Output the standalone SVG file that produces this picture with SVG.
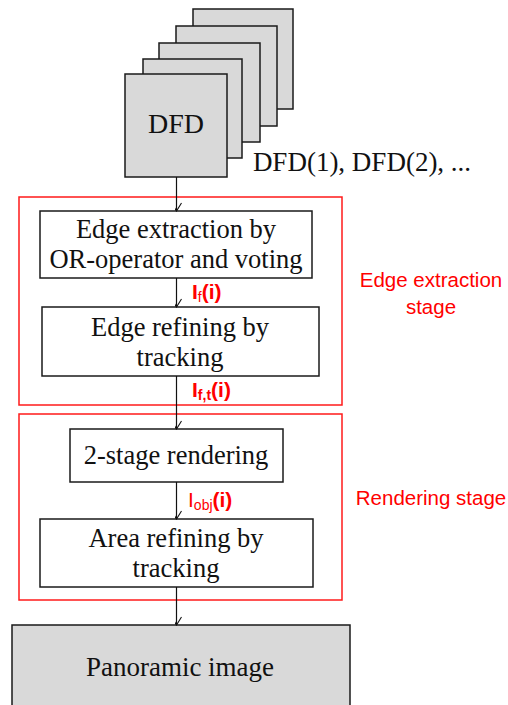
<svg xmlns="http://www.w3.org/2000/svg" width="508" height="705" viewBox="0 0 508 705">
<style>
.frame{fill:#d9d9d9;stroke:#1a1a1a;stroke-width:1.5}
.box{fill:#ffffff;stroke:#1a1a1a;stroke-width:1.5}
.stage{fill:none;stroke:#ff1a1a;stroke-width:1.5}
.t{font-family:"Liberation Serif","Times New Roman",serif;font-size:26.5px;fill:#111;text-anchor:middle}
.r{font-family:"Liberation Sans",Arial,sans-serif;font-size:20.5px;fill:#ff0000}
.lb{font-family:"Liberation Sans",Arial,sans-serif;font-size:21px;fill:#ff0000;font-weight:bold}
.sub{font-size:14px;font-weight:normal}
.c{stroke:#111;stroke-width:1.2;fill:none}
</style>
<defs>
<marker id="arr" markerWidth="10" markerHeight="8" refX="9" refY="6" viewBox="0 0 10 8" orient="auto-start-reverse" markerUnits="userSpaceOnUse">
<path d="M1,1 L9,6 L1,11" fill="none" stroke="#111" stroke-width="1.1"/>
</marker>
</defs>
<g id="stage-edge">
<rect class="stage" x="19" y="197" width="323" height="208"/>
<text class="r" x="431" y="287" text-anchor="middle">Edge extraction</text>
<text class="r" x="431" y="314" text-anchor="middle">stage</text>
</g>
<g id="stage-render">
<rect class="stage" x="19" y="414" width="323" height="186"/>
<text class="r" x="431" y="505" text-anchor="middle">Rendering stage</text>
</g>
<g id="dfd">
<rect class="frame" x="193" y="9" width="100" height="100"/>
<rect class="frame" x="176" y="26" width="101" height="100"/>
<rect class="frame" x="159" y="43" width="101" height="99"/>
<rect class="frame" x="143" y="59" width="99" height="99"/>
<rect class="frame" x="125" y="74" width="102" height="103"/>
<text class="t" x="176" y="133" style="font-size:28px">DFD</text>
<text class="t" x="362" y="171" style="font-size:27px">DFD(1), DFD(2), ...</text>
</g>
<g id="edge-extraction">
<rect class="box" x="40" y="211" width="272" height="67"/>
<text class="t" x="176" y="238">Edge extraction by</text>
<text class="t" x="176" y="268">OR-operator and voting</text>
</g>
<g id="edge-refining">
<rect class="box" x="42" y="307" width="277" height="69"/>
<text class="t" x="180" y="336">Edge refining by</text>
<text class="t" x="180" y="366">tracking</text>
</g>
<g id="rendering">
<rect class="box" x="70" y="429" width="213" height="53"/>
<text class="t" x="176" y="464">2-stage rendering</text>
</g>
<g id="area-refining">
<rect class="box" x="40" y="519" width="273" height="68"/>
<text class="t" x="176" y="547">Area refining by</text>
<text class="t" x="176" y="577">tracking</text>
</g>
<g id="panoramic">
<rect class="frame" x="12" y="625" width="338" height="90"/>
<text class="t" x="180" y="676" style="font-size:27px">Panoramic image</text>
</g>
<g id="connectors">
<line class="c" x1="176.5" y1="177" x2="176.5" y2="211" marker-end="url(#arr)"/>
<line class="c" x1="176.5" y1="278" x2="176.5" y2="307" marker-end="url(#arr)"/>
<line class="c" x1="176.5" y1="376" x2="176.5" y2="429" marker-end="url(#arr)"/>
<line class="c" x1="176.5" y1="482" x2="176.5" y2="519" marker-end="url(#arr)"/>
<line class="c" x1="176.5" y1="587" x2="176.5" y2="625" marker-end="url(#arr)"/>
<text class="lb" x="192" y="299">I<tspan class="sub" dy="3">f</tspan><tspan dy="-3">(i)</tspan></text>
<text class="lb" x="192" y="397">I<tspan class="sub" dy="3" style="font-weight:bold">f,t</tspan><tspan dy="-3">(i)</tspan></text>
<text class="lb" x="188" y="507"><tspan style="font-weight:normal">I</tspan><tspan class="sub" dy="3">obj</tspan><tspan dy="-3">(i)</tspan></text>
</g>
</svg>
